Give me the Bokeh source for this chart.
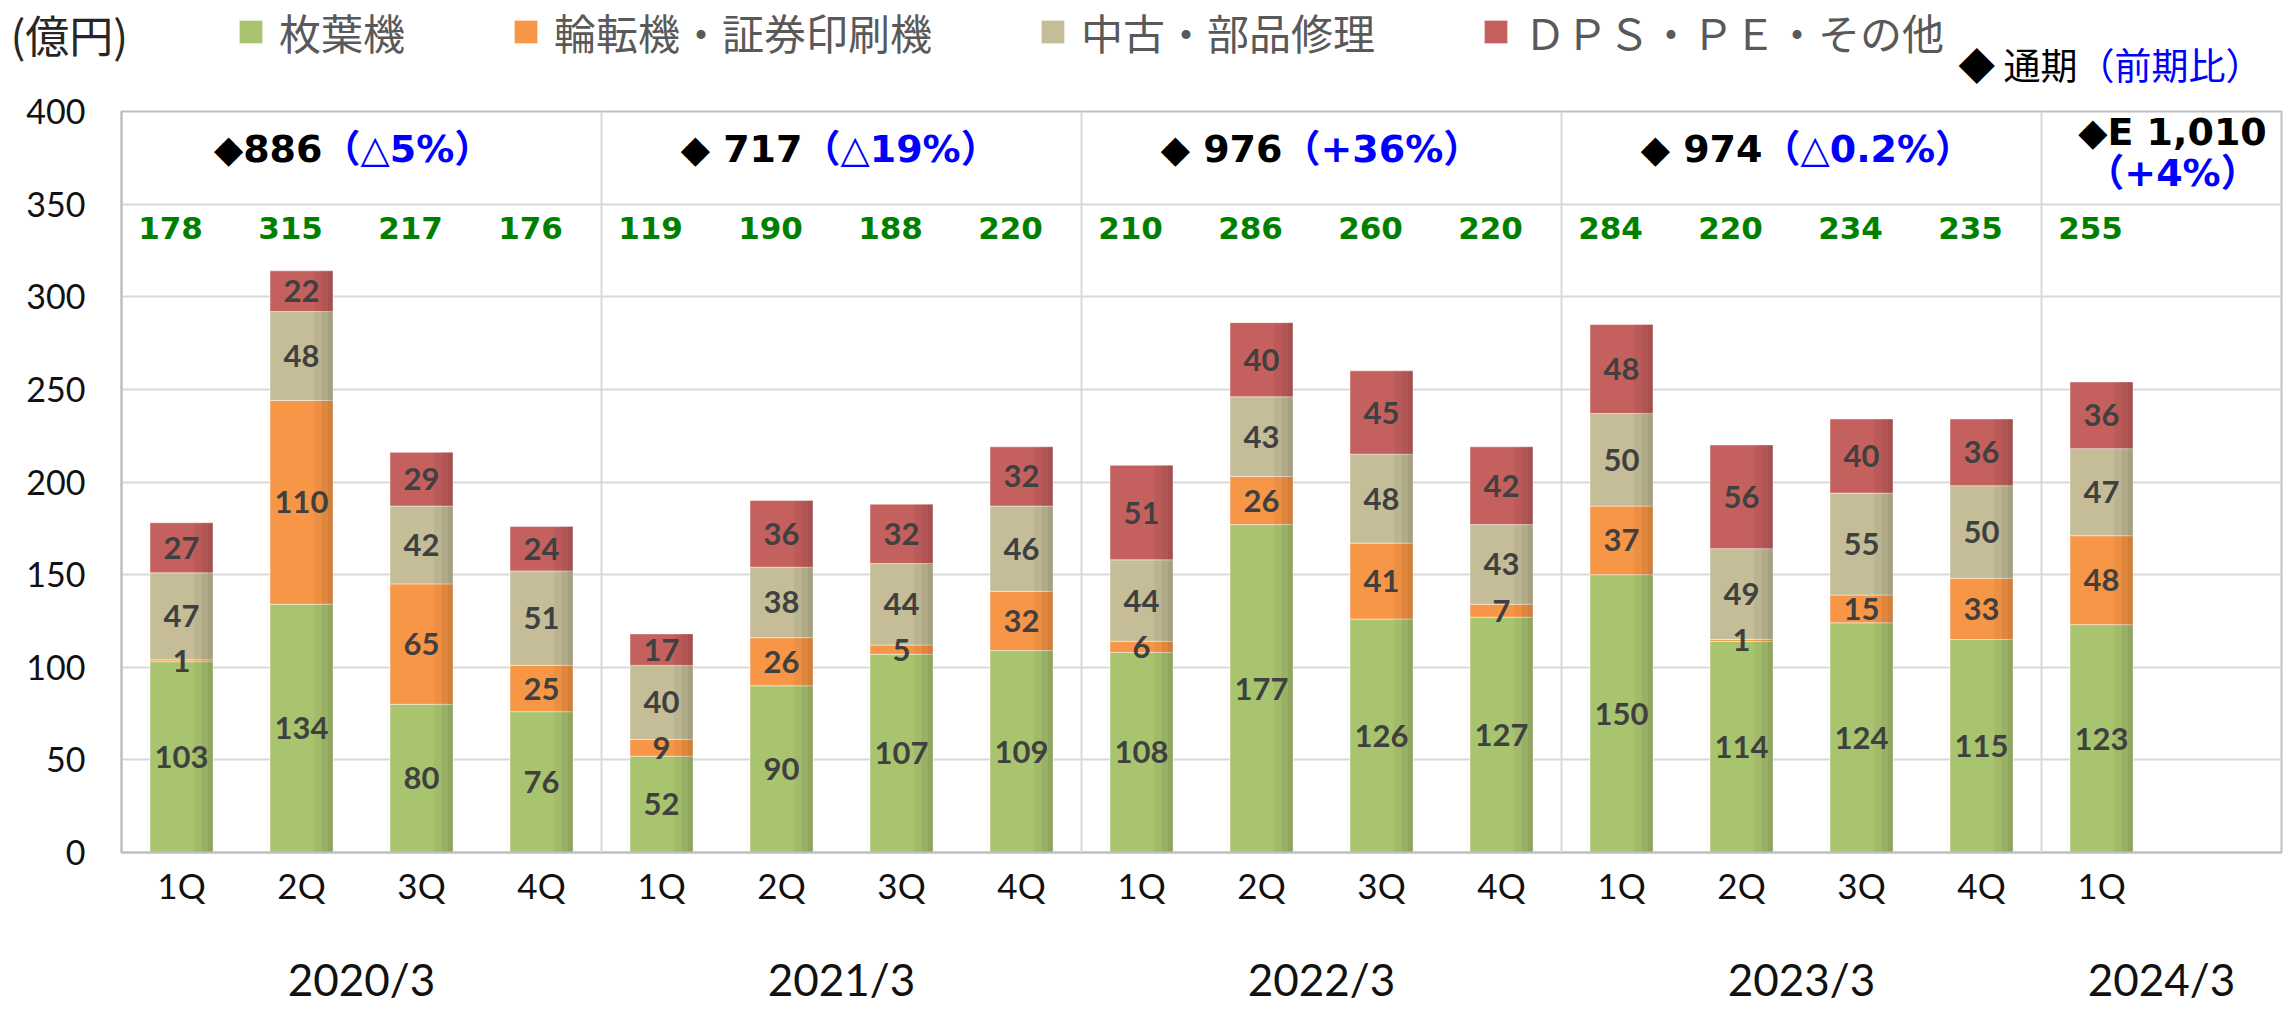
import numpy as np
from bokeh.plotting import figure
from bokeh.layouts import column
from bokeh.models import (ColumnDataSource, Range1d, FixedTicker, Span, Legend,
                          LegendItem, Label, LinearAxis)
from bokeh.core.properties import value
from bokeh.embed import file_html
from bokeh.resources import INLINE

# ---------------- data ----------------
quarters = ["1Q", "2Q", "3Q", "4Q", "1Q", "2Q", "3Q", "4Q", "1Q", "2Q", "3Q", "4Q",
            "1Q", "2Q", "3Q", "4Q", "1Q"]
fiscal_years = ["2020/3", "2021/3", "2022/3", "2023/3", "2024/3"]
year_slots = [4, 4, 4, 4, 2]          # category slots per fiscal year

sheetfed = [103, 134, 80, 76, 52, 90, 107, 109, 108, 177, 126, 127, 150, 114, 124, 115, 123]
rotary = [1, 110, 65, 25, 9, 26, 5, 32, 6, 26, 41, 7, 37, 1, 15, 33, 48]
used_parts = [47, 48, 42, 51, 40, 38, 44, 46, 44, 43, 48, 43, 50, 49, 55, 50, 47]
dps_other = [27, 22, 29, 24, 17, 36, 32, 32, 51, 40, 45, 42, 48, 56, 40, 36, 36]
quarter_totals = [178, 315, 217, 176, 119, 190, 188, 220, 210, 286, 260, 220,
                  284, 220, 234, 235, 255]

annual_totals = ["886", "717", "976", "974", "E 1,010"]
annual_changes = ["（△5%）", "（△19%）", "（+36%）", "（△0.2%）", "（+4%）"]

series_names = ["枚葉機", "輪転機・証券印刷機", "中古・部品修理", "ＤＰＳ・ＰＥ・その他"]
unit_label = "(億円)"
note_black = "◆ 通期"
note_blue = "（前期比）"
y_ticks = [0, 50, 100, 150, 200, 250, 300, 350, 400]

# ---------------- styles ----------------
colors = ["#A9C46F", "#F79646", "#C4BD97", "#C4605D"]
CJK = "Noto Sans CJK JP"
NUM = "Lato"
BAR_W = 0.525
TOTAL_Y = 337
ANNUAL_Y = 380
ANNUAL_Y2 = (389, 367)
W = 2295
HEAD_H = 91
MAIN_H = 920

n = len(quarters)
xs = list(range(n))
series = [sheetfed, rotary, used_parts, dps_other]
keys = ["s0", "s1", "s2", "s3"]


def no_align(fig):
    if "frame_align" in fig.properties():
        fig.frame_align = False


# ================= header (legend & notes) =================
header = figure(width=W, height=HEAD_H, x_range=Range1d(0, 1), y_range=Range1d(0, 1),
                output_backend="svg", toolbar_location=None, title=None,
                x_axis_type=None, y_axis_type=None, min_border=0,
                min_border_left=0, min_border_right=0, min_border_top=0,
                min_border_bottom=0)
no_align(header)
header.outline_line_color = None
header.grid.visible = False
dummies = [header.vbar(x=[0.5], top=[0], bottom=[0], width=0, fill_color=c,
                       line_color="white", line_alpha=0.45) for c in colors]
legend = Legend(items=[LegendItem(label=nm, renderers=[r]) for nm, r in zip(series_names, dummies)],
                orientation="horizontal", location=(236, 29), padding=0, margin=0,
                border_line_color=None, background_fill_alpha=0,
                glyph_width=29, glyph_height=29, label_standoff=14, spacing=106,
                label_text_font=CJK, label_text_font_size="42px",
                label_text_color="#595959")
header.add_layout(legend)
header.add_layout(Label(x=10, y=58, x_units="screen", y_units="screen", text=unit_label,
                        text_align="left", text_baseline="middle", text_font=CJK,
                        text_font_size="44px", text_color="#262626"))
header.add_layout(Label(x=2077, y=28, x_units="screen", y_units="screen", text=note_black,
                        text_align="right", text_baseline="middle", text_font=CJK,
                        text_font_size="37px", text_color="black"))
header.add_layout(Label(x=2077, y=28, x_units="screen", y_units="screen", text=note_blue,
                        text_align="left", text_baseline="middle", text_font=CJK,
                        text_font_size="37px", text_color="#0000FF"))

# ================= main chart =================
src = ColumnDataSource(dict(x=xs, **{k: v for k, v in zip(keys, series)}))

p = figure(width=W, height=MAIN_H, title=None,
           x_range=Range1d(-0.5, sum(year_slots) - 0.5), y_range=Range1d(0, 400),
           output_backend="svg", toolbar_location=None,
           min_border_left=121, min_border_right=14, min_border_top=20,
           min_border_bottom=159)
no_align(p)
p.background_fill_color = "white"
p.border_fill_color = "white"
p.outline_line_color = "#bfbfbf"
p.outline_line_width = 2

# grid
p.xgrid.visible = False
p.ygrid.grid_line_color = "#d9d9d9"
p.ygrid.grid_line_width = 2
p.ygrid.ticker = FixedTicker(ticks=y_ticks)

# y axis
p.yaxis.ticker = FixedTicker(ticks=y_ticks)
p.yaxis.axis_line_color = "#bfbfbf"
p.yaxis.axis_line_width = 2
p.yaxis.major_tick_line_color = None
p.yaxis.minor_tick_line_color = None
p.yaxis.major_tick_out = 0
p.yaxis.minor_tick_out = 0
p.yaxis.major_label_standoff = 36
p.yaxis.major_label_text_font = NUM
p.yaxis.major_label_text_font_size = "34px"
p.yaxis.major_label_text_color = "#111111"

# x axis (quarters)
qaxis = p.below[0]
qaxis.ticker = FixedTicker(ticks=xs)
qaxis.major_label_overrides = {i: q for i, q in zip(xs, quarters)}
qaxis.axis_line_color = "#bfbfbf"
qaxis.axis_line_width = 2
qaxis.major_tick_line_color = None
qaxis.minor_tick_line_color = None
qaxis.major_tick_out = 0
qaxis.minor_tick_out = 0
qaxis.major_label_standoff = 11
qaxis.major_label_text_font = NUM
qaxis.major_label_text_font_size = "35px"
qaxis.major_label_text_color = "#111111"

# second x axis (fiscal years)
edges = np.concatenate([[0], np.cumsum(year_slots)]) - 0.5
centers = [float(c) for c in (edges[:-1] + edges[1:]) / 2]
year_axis = LinearAxis(ticker=FixedTicker(ticks=centers),
                       major_label_overrides={c: fy for c, fy in zip(centers, fiscal_years)},
                       axis_line_color=None, major_tick_line_color=None,
                       minor_tick_line_color=None, major_tick_out=0, minor_tick_out=0,
                       major_label_standoff=44, major_label_text_font=NUM,
                       major_label_text_font_size="44px", major_label_text_color="#111111")
p.add_layout(year_axis, "below")

# group separators
for b in edges[1:-1]:
    p.add_layout(Span(location=float(b), dimension="height", line_color="#d9d9d9",
                      line_width=2))

# stacked bars
bars = p.vbar_stack(keys, x="x", width=BAR_W, color=colors, source=src,
                    line_color="white", line_alpha=0.45, line_width=1)

# right-edge shading of bars
stack_top = np.sum(np.array(series), axis=0)
for frac, alpha in [(0.30, 0.045), (0.18, 0.05), (0.08, 0.06)]:
    w = BAR_W * frac
    p.vbar(x=np.array(xs) + BAR_W / 2 - w / 2, width=w, top=stack_top, bottom=0,
           fill_color="black", fill_alpha=alpha, line_color=None)

# segment labels
lx, ly, lt = [], [], []
base = np.zeros(n)
for s in series:
    arr = np.array(s, dtype=float)
    lx += xs
    ly += list(base + arr / 2)
    lt += [str(v) for v in s]
    base = base + arr
p.text(x=lx, y=ly, text=lt, text_align="center", text_baseline="middle",
       text_font=value(NUM), text_font_style="bold", text_font_size="31px",
       text_color="#404040")

# quarter totals (green)
p.text(x=xs, y=[TOTAL_Y] * n, text=[str(t) for t in quarter_totals], x_offset=-11,
       text_align="center", text_baseline="middle", text_font=value("DejaVu Sans"),
       text_font_style="bold", text_font_size="31px", text_color="#008000")

# annual totals
AFONT = value("DejaVu Sans, Noto Sans CJK JP")
AF_SIZE = "38px"
single = [i for i, t in enumerate(annual_totals) if not t.startswith("E")]
double = [i for i, t in enumerate(annual_totals) if t.startswith("E")]
blk = ["◆" + annual_totals[i] if i == 0 else "◆ " + annual_totals[i] for i in single]
p.text(x=[centers[i] for i in single], y=[ANNUAL_Y] * len(single), text=blk,
       x_offset=-39, text_align="right", text_baseline="middle", text_font=AFONT,
       text_font_style="bold", text_font_size=AF_SIZE, text_color="black")
p.text(x=[centers[i] for i in single], y=[ANNUAL_Y] * len(single),
       text=[annual_changes[i] for i in single], x_offset=-39, text_align="left",
       text_baseline="middle", text_font=AFONT, text_font_style="bold",
       text_font_size=AF_SIZE, text_color="#0000FF")
p.text(x=[centers[i] for i in double], y=[ANNUAL_Y2[0]] * len(double),
       text=["◆" + annual_totals[i] for i in double], x_offset=11, text_align="center",
       text_baseline="middle", text_font=AFONT, text_font_style="bold",
       text_font_size=AF_SIZE, text_color="black")
p.text(x=[centers[i] for i in double], y=[ANNUAL_Y2[1]] * len(double),
       text=[annual_changes[i] for i in double], x_offset=11, text_align="center",
       text_baseline="middle", text_font=AFONT, text_font_style="bold",
       text_font_size=AF_SIZE, text_color="#0000FF")

layout = column(header, p, spacing=0)
open("out.html", "w").write(file_html(layout, INLINE))
